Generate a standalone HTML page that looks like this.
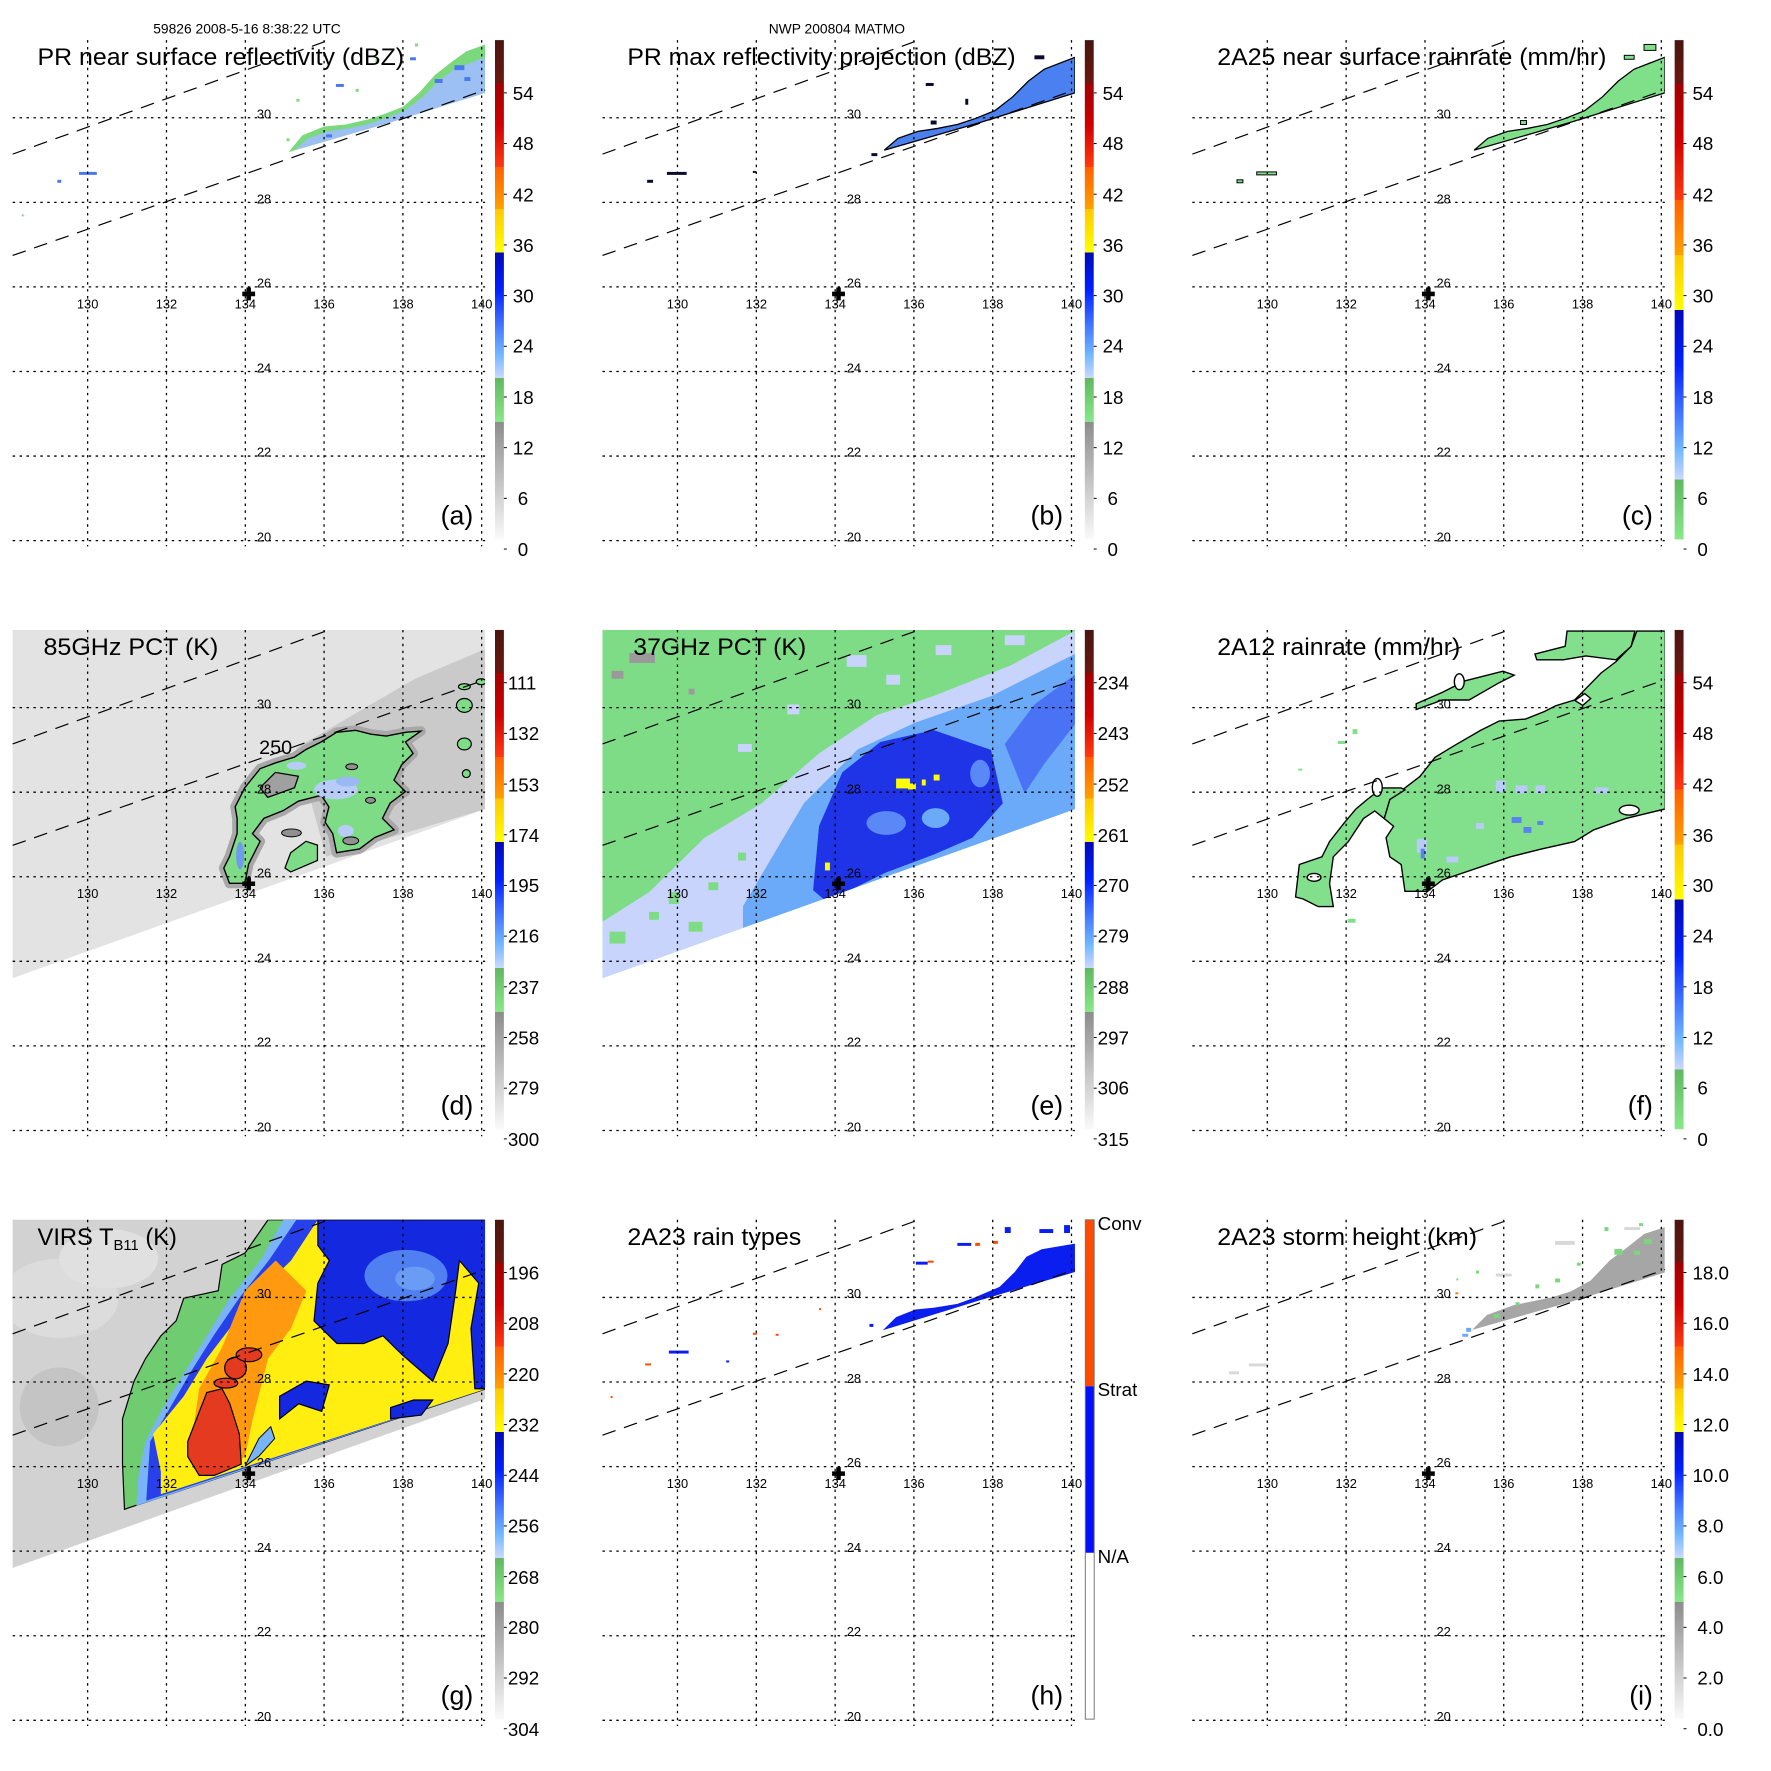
<!DOCTYPE html>
<html><head><meta charset="utf-8"><style>
html,body{margin:0;padding:0;background:#fff}
svg{display:block}
text{font-family:"Liberation Sans",Arial,sans-serif;fill:#000}
.tt{font-size:24px}
.ll{font-size:13px}
.cl{font-size:19px}
.pl{font-size:27px}
</style></head><body>
<svg xmlns="http://www.w3.org/2000/svg" width="1771" height="1771" viewBox="0 0 1771 1771">
<defs>
<clipPath id="sw"><polygon points="12.8,40.6 491,40.6 491,222 12.8,393"/></clipPath>
<clipPath id="mp"><rect x="12.8" y="40.6" width="478.2" height="506.4"/></clipPath>
<linearGradient id="cbA" x1="0" y1="0" x2="0" y2="1">
<stop offset="0" stop-color="#4a1510"/><stop offset=".086" stop-color="#6a1810"/>
<stop offset=".086" stop-color="#a00000"/><stop offset=".17" stop-color="#d00000"/><stop offset=".254" stop-color="#ff3a10"/>
<stop offset=".254" stop-color="#ff6000"/><stop offset=".338" stop-color="#ffa000"/>
<stop offset=".338" stop-color="#ffc800"/><stop offset=".425" stop-color="#ffff00"/>
<stop offset=".425" stop-color="#0008b8"/><stop offset=".5" stop-color="#0020ff"/><stop offset=".58" stop-color="#4a80ff"/><stop offset=".63" stop-color="#70b8ff"/><stop offset=".677" stop-color="#ccd8ff"/>
<stop offset=".677" stop-color="#60b860"/><stop offset=".765" stop-color="#88e888"/>
<stop offset=".765" stop-color="#8c8c8c"/><stop offset="1" stop-color="#fafafa"/>
</linearGradient>
<linearGradient id="cbC" x1="0" y1="0" x2="0" y2="1">
<stop offset="0" stop-color="#4a1510"/><stop offset=".087" stop-color="#6a1810"/>
<stop offset=".087" stop-color="#a00000"/><stop offset=".2" stop-color="#d00000"/><stop offset=".32" stop-color="#ff3a10"/>
<stop offset=".32" stop-color="#ff6000"/><stop offset=".43" stop-color="#ffa000"/>
<stop offset=".43" stop-color="#ffc800"/><stop offset=".54" stop-color="#ffff00"/>
<stop offset=".54" stop-color="#0008b8"/><stop offset=".65" stop-color="#0020ff"/><stop offset=".76" stop-color="#4a80ff"/><stop offset=".82" stop-color="#70b8ff"/><stop offset=".88" stop-color="#ccd8ff"/>
<stop offset=".88" stop-color="#60b860"/><stop offset="1" stop-color="#88e888"/>
</linearGradient>
<g id="grid" fill="none" stroke="#000" stroke-width="1.3" stroke-dasharray="2.5,4.5">
<line x1="88.7" y1="40.6" x2="88.7" y2="553"/><line x1="168.5" y1="40.6" x2="168.5" y2="553"/><line x1="248.3" y1="40.6" x2="248.3" y2="553"/><line x1="328" y1="40.6" x2="328" y2="553"/><line x1="407.8" y1="40.6" x2="407.8" y2="553"/><line x1="487.5" y1="40.6" x2="487.5" y2="553"/>
<line x1="12.8" y1="119.2" x2="491" y2="119.2"/><line x1="12.8" y1="204.8" x2="491" y2="204.8"/><line x1="12.8" y1="290.4" x2="491" y2="290.4"/><line x1="12.8" y1="376" x2="491" y2="376"/><line x1="12.8" y1="461.6" x2="491" y2="461.6"/><line x1="12.8" y1="547.2" x2="491" y2="547.2"/>
</g>
<g id="dash" fill="none" stroke="#000" stroke-width="1.2" stroke-dasharray="14,9">
<line x1="12.8" y1="156" x2="333" y2="40.6"/><line x1="12.8" y1="258.6" x2="491" y2="91"/>
</g>
<path id="cross" d="M-2.3,-6.5h4.6v4.2h4.2v4.6h-4.2v4.2h-4.6v-4.2h-4.2v-4.6h4.2z" fill="#000"/>
<g id="tk" stroke="#000" stroke-width="1"><line x1="510" y1="94" x2="513" y2="94"/><line x1="510" y1="145.3" x2="513" y2="145.3"/><line x1="510" y1="196.6" x2="513" y2="196.6"/><line x1="510" y1="247.9" x2="513" y2="247.9"/><line x1="510" y1="299.2" x2="513" y2="299.2"/><line x1="510" y1="350.5" x2="513" y2="350.5"/><line x1="510" y1="401.8" x2="513" y2="401.8"/><line x1="510" y1="453.1" x2="513" y2="453.1"/><line x1="510" y1="504.4" x2="513" y2="504.4"/><line x1="510" y1="555.7" x2="513" y2="555.7"/></g>
</defs>
<g transform="scale(0.988)">
<text x="250" y="34" font-size="14" text-anchor="middle">59826 2008-5-16 8:38:22 UTC</text>
<text x="847" y="34" font-size="14" text-anchor="middle">NWP 200804 MATMO</text>

<!-- ============ PANEL A ============ -->
<g transform="translate(0,0)">
<g clip-path="url(#mp)">
<polygon points="292,154 306,137 328,128 350,126 372,121 390,115 408,108 425,93 440,76 458,62 472,52 491,45 491,94 395,124" fill="#7cd87c"/>
<polygon points="298,152 312,140 332,133 352,130 372,126 390,120 410,112 428,98 444,82 460,70 491,58 491,94 395,124" fill="#9cc0f4"/>
<g fill="#4a78ee"><rect x="440" y="80" width="8" height="4"/><rect x="460" y="66" width="10" height="5"/><rect x="330" y="136" width="6" height="3"/><rect x="470" y="78" width="6" height="4"/><rect x="340" y="85" width="8" height="3"/><rect x="415" y="58" width="6" height="3"/><rect x="58" y="182" width="4" height="3"/><rect x="80" y="174" width="18" height="3"/></g>
<g fill="#80d880"><rect x="300" y="100" width="3" height="3"/><rect x="360" y="90" width="3" height="3"/><rect x="380" y="60" width="3" height="3"/><rect x="420" y="44" width="3" height="3"/><rect x="290" y="140" width="3" height="3"/><rect x="22" y="217" width="2" height="2"/></g>
</g>
<use href="#grid"/><use href="#dash"/>
<use href="#cross" x="251.7" y="297.5"/>
<text class="ll" x="88.7" y="312" text-anchor="middle">130</text><text class="ll" x="168.5" y="312" text-anchor="middle">132</text><text class="ll" x="248.3" y="312" text-anchor="middle">134</text><text class="ll" x="328" y="312" text-anchor="middle">136</text><text class="ll" x="407.8" y="312" text-anchor="middle">138</text><text class="ll" x="487.5" y="312" text-anchor="middle">140</text>
<text class="ll" x="260" y="120">30</text><text class="ll" x="260" y="206">28</text><text class="ll" x="260" y="291">26</text><text class="ll" x="260" y="377">24</text><text class="ll" x="260" y="462">22</text><text class="ll" x="260" y="548">20</text>
<text class="tt" x="38" y="66" textLength="371" lengthAdjust="spacingAndGlyphs">PR near surface reflectivity (dBZ)</text>
<text class="pl" x="479" y="531" text-anchor="end">(a)</text>
<rect x="501" y="40.6" width="9" height="505.4" fill="url(#cbA)"/><use href="#tk"/>
<g class="cl"><text x="519" y="101">54</text><text x="519" y="152">48</text><text x="519" y="204">42</text><text x="519" y="255">36</text><text x="519" y="306">30</text><text x="519" y="357">24</text><text x="519" y="409">18</text><text x="519" y="460">12</text><text x="524" y="511">6</text><text x="524" y="563">0</text></g>
</g>

<!-- ============ PANEL B ============ -->
<g transform="translate(597,0)">
<g clip-path="url(#mp)">
<polygon points="298,152 312,140 332,133 352,130 372,126 390,120 410,112 428,98 444,82 460,70 491,58 491,94 395,124" fill="#4a80f0" stroke="#000" stroke-width="1.3"/>
<g fill="#0a0a30"><rect x="450" y="56" width="10" height="4"/><rect x="340" y="84" width="8" height="3"/><rect x="58" y="182" width="6" height="3"/><rect x="78" y="174" width="20" height="3"/><rect x="345" y="122" width="6" height="4"/><rect x="380" y="100" width="3" height="6"/><rect x="285" y="155" width="6" height="3"/><rect x="165" y="173" width="3" height="2"/></g>
</g>
<use href="#grid"/><use href="#dash"/>
<use href="#cross" x="251.7" y="297.5"/>
<text class="ll" x="88.7" y="312" text-anchor="middle">130</text><text class="ll" x="168.5" y="312" text-anchor="middle">132</text><text class="ll" x="248.3" y="312" text-anchor="middle">134</text><text class="ll" x="328" y="312" text-anchor="middle">136</text><text class="ll" x="407.8" y="312" text-anchor="middle">138</text><text class="ll" x="487.5" y="312" text-anchor="middle">140</text>
<text class="ll" x="260" y="120">30</text><text class="ll" x="260" y="206">28</text><text class="ll" x="260" y="291">26</text><text class="ll" x="260" y="377">24</text><text class="ll" x="260" y="462">22</text><text class="ll" x="260" y="548">20</text>
<text class="tt" x="38" y="66" textLength="393" lengthAdjust="spacingAndGlyphs">PR max reflectivity projection (dBZ)</text>
<text class="pl" x="479" y="531" text-anchor="end">(b)</text>
<rect x="501" y="40.6" width="9" height="505.4" fill="url(#cbA)"/><use href="#tk"/>
<g class="cl"><text x="519" y="101">54</text><text x="519" y="152">48</text><text x="519" y="204">42</text><text x="519" y="255">36</text><text x="519" y="306">30</text><text x="519" y="357">24</text><text x="519" y="409">18</text><text x="519" y="460">12</text><text x="524" y="511">6</text><text x="524" y="563">0</text></g>
</g>

<!-- ============ PANEL C ============ -->
<g transform="translate(1194,0)">
<g clip-path="url(#mp)">
<polygon points="298,152 312,140 332,133 352,130 372,126 390,120 410,112 428,98 444,82 460,70 491,58 491,94 395,124" fill="#80e08a" stroke="#000" stroke-width="1.3"/>
<g fill="#80e08a" stroke="#000" stroke-width="1"><rect x="450" y="56" width="10" height="4"/><rect x="58" y="182" width="6" height="3"/><rect x="78" y="174" width="20" height="3"/><rect x="345" y="122" width="6" height="4"/><rect x="470" y="45" width="12" height="6"/></g>
</g>
<use href="#grid"/><use href="#dash"/>
<use href="#cross" x="251.7" y="297.5"/>
<text class="ll" x="88.7" y="312" text-anchor="middle">130</text><text class="ll" x="168.5" y="312" text-anchor="middle">132</text><text class="ll" x="248.3" y="312" text-anchor="middle">134</text><text class="ll" x="328" y="312" text-anchor="middle">136</text><text class="ll" x="407.8" y="312" text-anchor="middle">138</text><text class="ll" x="487.5" y="312" text-anchor="middle">140</text>
<text class="ll" x="260" y="120">30</text><text class="ll" x="260" y="206">28</text><text class="ll" x="260" y="291">26</text><text class="ll" x="260" y="377">24</text><text class="ll" x="260" y="462">22</text><text class="ll" x="260" y="548">20</text>
<text class="tt" x="38" y="66" textLength="394" lengthAdjust="spacingAndGlyphs">2A25 near surface rainrate (mm/hr)</text>
<text class="pl" x="479" y="531" text-anchor="end">(c)</text>
<rect x="501" y="40.6" width="9" height="505.4" fill="url(#cbC)"/><use href="#tk"/>
<g class="cl"><text x="519" y="101">54</text><text x="519" y="152">48</text><text x="519" y="204">42</text><text x="519" y="255">36</text><text x="519" y="306">30</text><text x="519" y="357">24</text><text x="519" y="409">18</text><text x="519" y="460">12</text><text x="524" y="511">6</text><text x="524" y="563">0</text></g>
</g>

<!-- ============ PANEL D ============ -->
<g transform="translate(0,597)">
<g clip-path="url(#sw)">
<rect x="0" y="0" width="500" height="400" fill="#e3e3e3"/>
<polygon points="300,160 420,90 491,60 491,222 330,270" fill="#cacaca"/>
<g transform="translate(0,6)">
<polygon points="232.3,291.1 226.5,275.6 232.3,264 240,240.8 240,225.3 238,213.7 247.8,194.3 263.3,175 278.7,169.2 298,163.3 309.7,155.6 325.2,147.9 340.7,138.2 360,136.2 375.5,140.1 391,142 410.4,138.2 425.9,137 410.4,147.9 418.1,159.5 406.5,171.1 398.8,186.6 410.4,198.2 394.9,209.8 387.1,225.3 398.8,236.9 379.4,244.6 363.9,256.3 340.7,260.1 336.8,240.8 329.1,229.2 332.9,213.7 325.2,202 302,207.9 286.5,217.5 267.1,225.3 255.5,240.8 263.3,248.5 251.6,271.7 247.8,291.1" fill="#909090" stroke="#a8a8a8" stroke-width="10" stroke-linejoin="round"/>
<polygon points="232.3,291.1 226.5,275.6 232.3,264 240,240.8 240,225.3 238,213.7 247.8,194.3 263.3,175 278.7,169.2 298,163.3 309.7,155.6 325.2,147.9 340.7,138.2 360,136.2 375.5,140.1 391,142 410.4,138.2 425.9,137 410.4,147.9 418.1,159.5 406.5,171.1 398.8,186.6 410.4,198.2 394.9,209.8 387.1,225.3 398.8,236.9 379.4,244.6 363.9,256.3 340.7,260.1 336.8,240.8 329.1,229.2 332.9,213.7 325.2,202 302,207.9 286.5,217.5 267.1,225.3 255.5,240.8 263.3,248.5 251.6,271.7 247.8,291.1" fill="#7edc86" stroke="#000" stroke-width="1.4"/>
<polygon points="263.3,194.3 278.7,178.8 302,182.7 298.1,194.3 271,204" fill="#a0a0a0" stroke="#000" stroke-width="1.3"/>
<polygon points="288.4,275.6 294.2,260.1 309.7,248.5 321.3,252.4 321.3,267.9 294.2,279.5" fill="#7edc86" stroke="#000" stroke-width="1.3"/>
<ellipse cx="340" cy="196" rx="22" ry="10" fill="#b8ccf8"/><ellipse cx="352" cy="188" rx="12" ry="5" fill="#9ab8f4"/>
<ellipse cx="243" cy="263" rx="4" ry="14" fill="#6f9af0"/><ellipse cx="350" cy="238" rx="8" ry="6" fill="#b8ccf8"/>
<ellipse cx="300" cy="172" rx="10" ry="4" fill="#b8ccf8"/>
<g fill="#7edc86" stroke="#000" stroke-width="1.2"><ellipse cx="470" cy="111" rx="8" ry="7"/><ellipse cx="470" cy="150" rx="7" ry="6"/><ellipse cx="472" cy="180" rx="4" ry="4"/><ellipse cx="470" cy="92" rx="6" ry="3"/><ellipse cx="487" cy="87" rx="5" ry="3"/></g>
<g fill="#909090" stroke="#000" stroke-width="1"><ellipse cx="356" cy="173" rx="6" ry="3"/><ellipse cx="375" cy="207" rx="5" ry="3"/><ellipse cx="355" cy="248" rx="8" ry="4"/><ellipse cx="295" cy="240" rx="10" ry="4"/></g>
</g>
</g>
<use href="#grid"/><use href="#dash"/>
<use href="#cross" x="251.7" y="297.5"/>
<text x="279" y="166" font-size="20" text-anchor="middle">250</text>
<text class="ll" x="88.7" y="312" text-anchor="middle">130</text><text class="ll" x="168.5" y="312" text-anchor="middle">132</text><text class="ll" x="248.3" y="312" text-anchor="middle">134</text><text class="ll" x="328" y="312" text-anchor="middle">136</text><text class="ll" x="407.8" y="312" text-anchor="middle">138</text><text class="ll" x="487.5" y="312" text-anchor="middle">140</text>
<text class="ll" x="260" y="120">30</text><text class="ll" x="260" y="206">28</text><text class="ll" x="260" y="291">26</text><text class="ll" x="260" y="377">24</text><text class="ll" x="260" y="462">22</text><text class="ll" x="260" y="548">20</text>
<text class="tt" x="44" y="66" textLength="177" lengthAdjust="spacingAndGlyphs">85GHz PCT (K)</text>
<text class="pl" x="479" y="531" text-anchor="end">(d)</text>
<rect x="501" y="40.6" width="9" height="505.4" fill="url(#cbA)"/><use href="#tk"/>
<g class="cl"><text x="514" y="101">111</text><text x="514" y="152">132</text><text x="514" y="204">153</text><text x="514" y="255">174</text><text x="514" y="306">195</text><text x="514" y="357">216</text><text x="514" y="409">237</text><text x="514" y="460">258</text><text x="514" y="511">279</text><text x="514" y="563">300</text></g>
</g>

<!-- ============ PANEL E ============ -->
<g transform="translate(597,597)">
<g clip-path="url(#sw)">
<rect x="0" y="0" width="500" height="400" fill="#7edc86"/>
<g fill="#9a9a9a"><rect x="40" y="64" width="26" height="10"/><rect x="22" y="82" width="12" height="8"/><rect x="100" y="100" width="6" height="6"/></g>
<g transform="translate(0,6)">
<polygon points="12.8,330 60,300 116,245 174,210 232,159.5 290,121 348,101.4 426,70.4 491,35.6 491,230 12.8,400" fill="#c8d4fc"/>
<g fill="#c8d4fc"><rect x="260" y="60" width="20" height="12"/><rect x="300" y="80" width="14" height="10"/><rect x="200" y="110" width="12" height="10"/><rect x="150" y="150" width="14" height="8"/><rect x="350" y="50" width="16" height="10"/><rect x="420" y="40" width="20" height="10"/></g>
<g fill="#7edc86"><rect x="40" y="290" width="14" height="10"/><rect x="80" y="300" width="10" height="12"/><rect x="20" y="340" width="16" height="12"/><rect x="120" y="290" width="10" height="8"/><rect x="60" y="320" width="10" height="8"/><rect x="150" y="260" width="8" height="8"/><rect x="100" y="330" width="14" height="10"/></g>
<polygon points="155,314.3 216.8,209.8 271,155.6 329,128.5 406.5,101.4 491,58.8 491,230 155,350" fill="#6aaaf8"/>
<polygon points="226,298 232,233 255.5,178.8 294,148 348,136 406,156 418,210 387,245 348,262 300,280 255,302 240,310" fill="#1e34e6"/>
<polygon points="420,150 450,110 491,80 491,130 460,170 440,200" fill="#4a72f4"/>
<ellipse cx="300" cy="230" rx="20" ry="12" fill="#5a88f6"/><ellipse cx="350" cy="225" rx="14" ry="10" fill="#6aaaf8"/><ellipse cx="395" cy="180" rx="10" ry="14" fill="#5a88f6"/>
<g fill="#ffff00"><rect x="310" y="185" width="14" height="10"/><rect x="322" y="190" width="8" height="6"/><rect x="336" y="186" width="4" height="6"/><rect x="348" y="181" width="6" height="6"/><rect x="238" y="270" width="5" height="8"/></g>
</g>
</g>
<use href="#grid"/><use href="#dash"/>
<use href="#cross" x="251.7" y="297.5"/>
<text class="ll" x="88.7" y="312" text-anchor="middle">130</text><text class="ll" x="168.5" y="312" text-anchor="middle">132</text><text class="ll" x="248.3" y="312" text-anchor="middle">134</text><text class="ll" x="328" y="312" text-anchor="middle">136</text><text class="ll" x="407.8" y="312" text-anchor="middle">138</text><text class="ll" x="487.5" y="312" text-anchor="middle">140</text>
<text class="ll" x="260" y="120">30</text><text class="ll" x="260" y="206">28</text><text class="ll" x="260" y="291">26</text><text class="ll" x="260" y="377">24</text><text class="ll" x="260" y="462">22</text><text class="ll" x="260" y="548">20</text>
<text class="tt" x="44" y="66" textLength="175" lengthAdjust="spacingAndGlyphs">37GHz PCT (K)</text>
<text class="pl" x="479" y="531" text-anchor="end">(e)</text>
<rect x="501" y="40.6" width="9" height="505.4" fill="url(#cbA)"/><use href="#tk"/>
<g class="cl"><text x="514" y="101">234</text><text x="514" y="152">243</text><text x="514" y="204">252</text><text x="514" y="255">261</text><text x="514" y="306">270</text><text x="514" y="357">279</text><text x="514" y="409">288</text><text x="514" y="460">297</text><text x="514" y="511">306</text><text x="514" y="563">315</text></g>
</g>

<!-- ============ PANEL F ============ -->
<g transform="translate(1194,597)">
<g clip-path="url(#mp)" stroke="#000" stroke-width="1.4" fill="#82e08c">
<polygon points="228,305.1 224.2,278 212.7,270.2 208.9,250.9 216.5,239.3 207,231.5 212.7,212.2 228,200.5 243.2,188.9 258.5,169.5 277.6,157.9 304.3,142.4 323.4,132.8 350.1,130.8 369.2,123.1 380.6,117.3 399.7,111.5 415,96 426.4,84.3 441.7,72.7 456.9,57.2 462.7,41.7 491.3,41.7 491.3,221.8 451.2,231.5 418.8,243.1 399.7,254.8 365.4,262.5 334.8,270.2 266.1,293.5 250.9,305.1"/>
<polygon points="359.6,65 390.2,57.2 392.1,41.7 460.8,41.7 456.9,57.2 441.7,70.8 411.1,66.9 388.3,70.8 361.5,70.8"/>
<polygon points="117.3,310.9 121.1,278 144,270.2 151.7,254.8 166.9,235.4 178.4,221.8 189.8,212.2 205.1,200.5 224.2,200.5 228,202.5 212.7,212.2 207,231.5 197.5,223.8 186,231.5 170.7,254.8 155.5,270.2 151.7,297.4 155.5,320.6 140.2,320.6 125,312.9"/>
<polygon points="239.4,115.3 266.1,103.7 289,92.1 327.2,82.4 338.6,86.3 323.4,94 292.9,111.5 266.1,111.5 239.4,121.1"/>
<ellipse cx="200" cy="200" rx="5" ry="9" fill="#fff"/><ellipse cx="283" cy="93" rx="5" ry="8" fill="#fff"/>
<ellipse cx="136" cy="291" rx="7" ry="4" fill="#fff"/><ellipse cx="455" cy="223" rx="10" ry="5" fill="#fff"/>
<polygon points="400,112 410,105 416,110 408,117" fill="#fff"/>
<g stroke="none" fill="#82e08c"><rect x="160" y="153" width="8" height="3"/><rect x="175" y="141" width="5" height="5"/><rect x="120" y="181" width="4" height="2"/><rect x="170" y="333" width="8" height="4"/></g>
</g>
<g clip-path="url(#mp)">
<g fill="#b8ccf8"><rect x="320" y="193" width="10" height="12"/><rect x="340" y="198" width="12" height="8"/><rect x="240" y="252" width="10" height="14"/><rect x="270" y="270" width="12" height="6"/><rect x="300" y="236" width="8" height="6"/><rect x="360" y="198" width="10" height="8"/><rect x="420" y="200" width="14" height="6"/></g>
<g fill="#5a82f0"><rect x="336" y="230" width="10" height="6"/><rect x="348" y="240" width="8" height="6"/><rect x="362" y="234" width="6" height="4"/><rect x="244" y="262" width="4" height="10"/></g>
</g>
<use href="#grid"/><use href="#dash"/>
<use href="#cross" x="251.7" y="297.5"/>
<text class="ll" x="88.7" y="312" text-anchor="middle">130</text><text class="ll" x="168.5" y="312" text-anchor="middle">132</text><text class="ll" x="248.3" y="312" text-anchor="middle">134</text><text class="ll" x="328" y="312" text-anchor="middle">136</text><text class="ll" x="407.8" y="312" text-anchor="middle">138</text><text class="ll" x="487.5" y="312" text-anchor="middle">140</text>
<text class="ll" x="260" y="120">30</text><text class="ll" x="260" y="206">28</text><text class="ll" x="260" y="291">26</text><text class="ll" x="260" y="377">24</text><text class="ll" x="260" y="462">22</text><text class="ll" x="260" y="548">20</text>
<text class="tt" x="38" y="66" textLength="246" lengthAdjust="spacingAndGlyphs">2A12 rainrate (mm/hr)</text>
<text class="pl" x="479" y="531" text-anchor="end">(f)</text>
<rect x="501" y="40.6" width="9" height="505.4" fill="url(#cbC)"/><use href="#tk"/>
<g class="cl"><text x="519" y="101">54</text><text x="519" y="152">48</text><text x="519" y="204">42</text><text x="519" y="255">36</text><text x="519" y="306">30</text><text x="519" y="357">24</text><text x="519" y="409">18</text><text x="519" y="460">12</text><text x="524" y="511">6</text><text x="524" y="563">0</text></g>
</g>

<!-- ============ PANEL G ============ -->
<g transform="translate(0,1194)">
<g clip-path="url(#sw)">
<rect x="0" y="0" width="500" height="400" fill="#d2d2d2"/>
<ellipse cx="60" cy="120" rx="60" ry="40" fill="#dcdcdc"/><ellipse cx="110" cy="80" rx="50" ry="30" fill="#e0e0e0"/><ellipse cx="60" cy="230" rx="40" ry="40" fill="#c4c4c4"/>
<polygon points="271.3,40.6 248,74.2 224.8,85.7 220.9,112.4 186,120 178.3,142.9 162.8,158.1 147.3,181 135.7,203.9 124,242.1 124,287.9 126,333.6 491,212 491,40.6" fill="#70cc70" stroke="#000" stroke-width="1.2"/>
<polygon points="286.8,40.6 263.6,81.8 232.6,120 209.3,158.1 186,196.3 162.8,234.5 147.3,265 140,300 138,330 491,212 491,40.6" fill="#7ab4f8"/>
<polygon points="300,40.6 272,81.8 242,120 216,158.1 192,196.3 170,234.5 152,265 148,325 491,212 491,40.6" fill="#2840ea"/>
<polygon points="321.7,40.6 294.6,81.8 263.6,112.4 232.6,150.5 209.3,181 186,219.2 155,257.3 162.8,295.5 162.8,318.4 491,212 491,40.6" fill="#ffee10"/>
<polygon points="248,112.4 279,81.8 310,112.4 294.6,150.5 271.3,181 263.6,211.6 255.8,242.1 248,280.3 217,299.3 193.8,265 201.6,211.6 224.8,169.6" fill="#ff9a10"/>
<polygon points="190,265 209.3,215.4 224.8,211.6 232.6,226.8 242.2,257.3 244.2,287.9 217,299.3 201.6,299.3 190,280.3" fill="#e43a20" stroke="#000" stroke-width="1.2"/>
<g fill="#e43a20" stroke="#000" stroke-width="1.2"><ellipse cx="238.4" cy="190.6" rx="11" ry="11"/><ellipse cx="252" cy="177.2" rx="13" ry="7"/><ellipse cx="228.7" cy="205.9" rx="12" ry="5"/></g>
<polygon points="321.7,40.6 492,40.6 492,211.6 480.6,211.6 476.7,150.5 484.5,104.7 465,81.8 461.2,112.4 453.5,165.8 438,204 407,177.2 387.6,158.1 368.2,165.8 341,165.8 317.8,142.9 321.7,104.7 333.3,81.8 321.7,66.6" fill="#1428e0" stroke="#000" stroke-width="1.2"/>
<ellipse cx="410.9" cy="97.1" rx="42" ry="26" fill="#4f7ff0"/><ellipse cx="420" cy="100" rx="20" ry="12" fill="#6a9cf6"/>
<polygon points="283,219.2 310,203.9 333.3,207.7 325.6,234.5 302.3,226.8 283,242.1" fill="#1428e0" stroke="#000" stroke-width="1.2"/>
<polygon points="395.3,230.6 418.6,223 438,223 426.4,238.3 395.3,242.1" fill="#1428e0" stroke="#000" stroke-width="1.2"/>
<polygon points="248,290 262,262 274,250 278,262 262,280" fill="#7ab4f8" stroke="#000" stroke-width="1"/>
</g>
<use href="#grid"/><use href="#dash"/>
<use href="#cross" x="251.7" y="297.5"/>
<text class="ll" x="88.7" y="312" text-anchor="middle">130</text><text class="ll" x="168.5" y="312" text-anchor="middle">132</text><text class="ll" x="248.3" y="312" text-anchor="middle">134</text><text class="ll" x="328" y="312" text-anchor="middle">136</text><text class="ll" x="407.8" y="312" text-anchor="middle">138</text><text class="ll" x="487.5" y="312" text-anchor="middle">140</text>
<text class="ll" x="260" y="120">30</text><text class="ll" x="260" y="206">28</text><text class="ll" x="260" y="291">26</text><text class="ll" x="260" y="377">24</text><text class="ll" x="260" y="462">22</text><text class="ll" x="260" y="548">20</text>
<text class="tt" x="38" y="66">VIRS T<tspan font-size="15" dy="5">B11</tspan><tspan dy="-5"> (K)</tspan></text>
<text class="pl" x="479" y="531" text-anchor="end">(g)</text>
<rect x="501" y="40.6" width="9" height="505.4" fill="url(#cbA)"/><use href="#tk"/>
<g class="cl"><text x="514" y="101">196</text><text x="514" y="152">208</text><text x="514" y="204">220</text><text x="514" y="255">232</text><text x="514" y="306">244</text><text x="514" y="357">256</text><text x="514" y="409">268</text><text x="514" y="460">280</text><text x="514" y="511">292</text><text x="514" y="563">304</text></g>
</g>

<!-- ============ PANEL H ============ -->
<g transform="translate(597,1194)">
<g clip-path="url(#mp)">
<polygon points="296.5,152.4 310,139.1 329.5,131.4 348.8,129.5 372,125.7 387.6,120 414.7,108.5 430.2,93.3 441.9,78 457.4,70.4 491.5,64.7 491.5,93.3 395.3,121.9" fill="#0a1ef0"/>
<g fill="#0a1ef0"><rect x="455" y="50" width="14" height="4"/><rect x="80" y="173" width="20" height="3"/><rect x="372" y="64" width="14" height="3"/><rect x="330" y="83" width="12" height="3"/><rect x="420" y="48" width="6" height="6"/><rect x="480" y="46" width="6" height="8"/><rect x="283" y="146" width="4" height="3"/><rect x="138" y="183" width="3" height="2"/></g>
<g fill="#ff4a00"><rect x="56" y="186" width="6" height="2"/><rect x="165" y="155" width="4" height="2"/><rect x="21" y="219" width="2" height="2"/><rect x="342" y="82" width="6" height="2"/><rect x="390" y="64" width="5" height="3"/><rect x="232" y="130" width="2" height="2"/><rect x="188" y="156" width="3" height="2"/><rect x="408" y="62" width="5" height="3"/></g>
</g>
<use href="#grid"/><use href="#dash"/>
<use href="#cross" x="251.7" y="297.5"/>
<text class="ll" x="88.7" y="312" text-anchor="middle">130</text><text class="ll" x="168.5" y="312" text-anchor="middle">132</text><text class="ll" x="248.3" y="312" text-anchor="middle">134</text><text class="ll" x="328" y="312" text-anchor="middle">136</text><text class="ll" x="407.8" y="312" text-anchor="middle">138</text><text class="ll" x="487.5" y="312" text-anchor="middle">140</text>
<text class="ll" x="260" y="120">30</text><text class="ll" x="260" y="206">28</text><text class="ll" x="260" y="291">26</text><text class="ll" x="260" y="377">24</text><text class="ll" x="260" y="462">22</text><text class="ll" x="260" y="548">20</text>
<text class="tt" x="38" y="66" textLength="176" lengthAdjust="spacingAndGlyphs">2A23 rain types</text>
<text class="pl" x="479" y="531" text-anchor="end">(h)</text>
<rect x="501.5" y="40.6" width="9" height="168.5" fill="#ff4a00"/>
<rect x="501.5" y="209.1" width="9" height="168.5" fill="#0010f8"/>
<rect x="501.5" y="40.6" width="9" height="505.4" fill="none" stroke="#777" stroke-width="1"/>
<g class="cl"><text x="514" y="51">Conv</text><text x="514" y="219">Strat</text><text x="514" y="388">N/A</text></g>
</g>

<!-- ============ PANEL I ============ -->
<g transform="translate(1194,1194)">
<g clip-path="url(#mp)">
<polygon points="296,152 311,137 338,127 377,119 396,113 416,102 435,82 455,67 470,55 491,48 491,94 395,124" fill="#a6a6a6"/>
<g fill="#7cd87c"><rect x="318" y="136" width="6" height="4"/><rect x="340" y="124" width="4" height="3"/><rect x="440" y="70" width="8" height="6"/><rect x="460" y="72" width="6" height="4"/><rect x="470" y="60" width="8" height="5"/><rect x="360" y="106" width="4" height="4"/><rect x="380" y="100" width="5" height="4"/><rect x="430" y="48" width="4" height="4"/><rect x="465" y="44" width="4" height="3"/><rect x="300" y="92" width="3" height="3"/><rect x="280" y="100" width="2" height="2"/><rect x="402" y="84" width="4" height="3"/></g>
<g fill="#6aaaf8"><rect x="290" y="150" width="5" height="4"/><rect x="286" y="156" width="6" height="3"/></g>
<g fill="#d8d8d8"><rect x="70" y="186" width="20" height="3"/><rect x="50" y="194" width="10" height="3"/><rect x="380" y="62" width="20" height="4"/><rect x="320" y="95" width="16" height="3"/><rect x="450" y="48" width="16" height="3"/></g>
<rect x="279" y="114" width="3" height="2" fill="#ff8000"/>
</g>
<use href="#grid"/><use href="#dash"/>
<use href="#cross" x="251.7" y="297.5"/>
<text class="ll" x="88.7" y="312" text-anchor="middle">130</text><text class="ll" x="168.5" y="312" text-anchor="middle">132</text><text class="ll" x="248.3" y="312" text-anchor="middle">134</text><text class="ll" x="328" y="312" text-anchor="middle">136</text><text class="ll" x="407.8" y="312" text-anchor="middle">138</text><text class="ll" x="487.5" y="312" text-anchor="middle">140</text>
<text class="ll" x="260" y="120">30</text><text class="ll" x="260" y="206">28</text><text class="ll" x="260" y="291">26</text><text class="ll" x="260" y="377">24</text><text class="ll" x="260" y="462">22</text><text class="ll" x="260" y="548">20</text>
<text class="tt" x="38" y="66" textLength="263" lengthAdjust="spacingAndGlyphs">2A23 storm height (km)</text>
<text class="pl" x="479" y="531" text-anchor="end">(i)</text>
<rect x="501" y="40.6" width="9" height="505.4" fill="url(#cbA)"/><use href="#tk"/>
<g class="cl"><text x="519" y="101">18.0</text><text x="519" y="152">16.0</text><text x="519" y="204">14.0</text><text x="519" y="255">12.0</text><text x="519" y="306">10.0</text><text x="524" y="357">8.0</text><text x="524" y="409">6.0</text><text x="524" y="460">4.0</text><text x="524" y="511">2.0</text><text x="524" y="563">0.0</text></g>
</g>
</g>
</svg>
</body></html>
